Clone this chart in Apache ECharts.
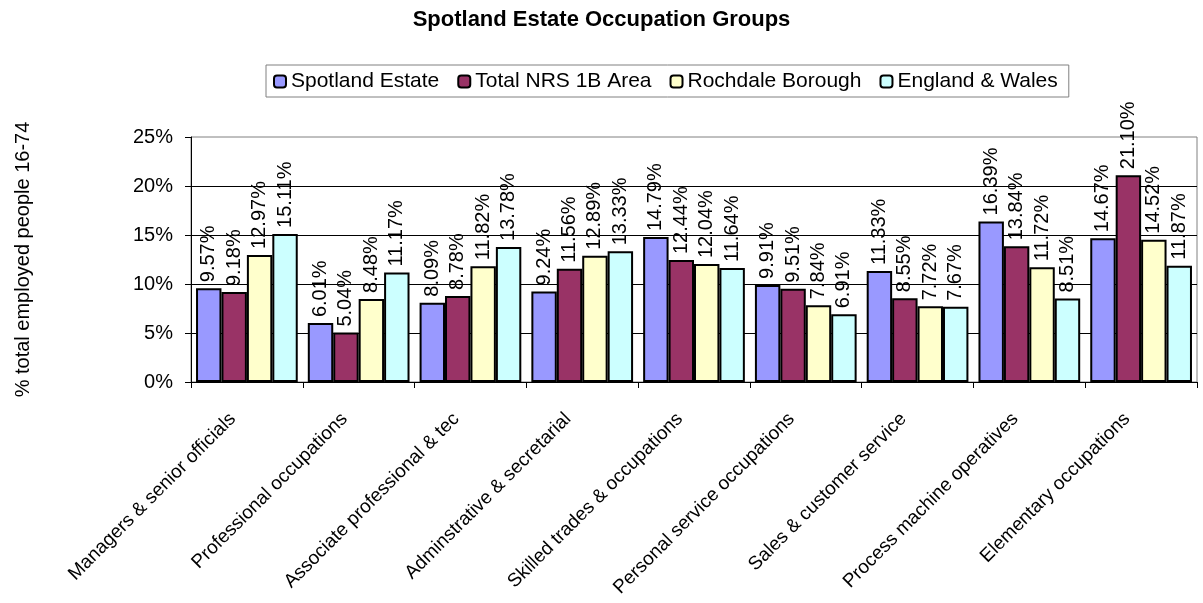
<!DOCTYPE html>
<html>
<head>
<meta charset="utf-8">
<script src="https://cdn.jsdelivr.net/npm/echarts@6/dist/echarts.min.js"></script>
<style>html,body{margin:0;padding:0;background:#fff}#c{width:1203px;height:603px}</style>
</head>
<body>
<div id="c"></div>
<script>
const categories = ["Managers & senior officials","Professional occupations","Associate professional & tec","Adminstrative & secretarial","Skilled trades & occupations","Personal service occupations","Sales & customer service","Process machine operatives","Elementary occupations"];
const spotland = [9.57, 6.01, 8.09, 9.24, 14.79, 9.91, 11.33, 16.39, 14.67];
const nrs = [9.18, 5.04, 8.78, 11.56, 12.44, 9.51, 8.55, 13.84, 21.10];
const rochdale = [12.97, 8.48, 11.82, 12.89, 12.04, 7.84, 7.72, 11.72, 14.52];
const englandWales = [15.11, 11.17, 13.78, 13.33, 11.64, 6.91, 7.67, 8.51, 11.87];
const seriesNames = ["Spotland Estate","Total NRS 1B Area","Rochdale Borough","England & Wales"];
const colors = ["#9999FF","#993366","#FFFFCC","#CCFFFF"];
const yTicks = [0,5,10,15,20,25];

const font = "Arial, 'Liberation Sans', sans-serif";
const chart = echarts.init(document.getElementById('c'));
const dataSets = [spotland, nrs, rochdale, englandWales];
chart.setOption({
  animation: false,
  backgroundColor: '#fff',
  title: {
    text: 'Spotland Estate Occupation Groups',
    left: 'center', top: 4,
    textStyle: {fontFamily: font, fontSize: 22, fontWeight: 'bold', color: '#000'}
  },
  legend: {
    data: seriesNames,
    left: 266, top: 65,
    itemWidth: 12, itemHeight: 12, itemGap: 18,
    padding: [6, 11, 5, 7],
    borderColor: '#808080', borderWidth: 1,
    textStyle: {fontFamily: font, fontSize: 21, color: '#000'},
    itemStyle: {borderColor: '#000', borderWidth: 2}
  },
  grid: {left: 191, top: 137, right: 6, bottom: 221, containLabel: false, outerBoundsMode: 'none',
         show: true, borderColor: '#808080', borderWidth: 1},
  xAxis: {
    type: 'category', data: categories,
    axisLine: {lineStyle: {color: '#000', width: 1}},
    axisTick: {show: true, lineStyle: {color: '#000'}, length: 6},
    axisLabel: {rotate: 45, fontFamily: font, fontSize: 19, color: '#000', margin: 20, padding: [0, 20, 0, 0], interval: 0}
  },
  yAxis: {
    type: 'value', min: 0, max: 25, interval: 5,
    name: '% total employed people 16-74', nameLocation: 'middle', nameGap: 158, nameRotate: 90,
    nameTextStyle: {fontFamily: font, fontSize: 20, color: '#000'},
    axisLine: {show: true, lineStyle: {color: '#000'}},
    axisTick: {show: true, lineStyle: {color: '#000'}, length: 6},
    axisLabel: {fontFamily: font, fontSize: 20, color: '#000', margin: 18, formatter: v => yTicks.includes(v) ? v + '%' : ''},
    splitLine: {show: true, showMaxLine: false, lineStyle: {color: ['#000','#000','#000','#000','#000','#808080'], width: 1}}
  },
  series: dataSets.map((d, i) => ({
    name: seriesNames[i], type: 'bar', data: d,
    barGap: '0%', barCategoryGap: '9%',
    itemStyle: {color: colors[i], borderColor: '#000', borderWidth: 2},
    label: {
      show: true, position: 'top', rotate: 90, align: 'left', verticalAlign: 'middle', distance: 6,
      fontFamily: font, fontSize: 20, color: '#000',
      formatter: p => p.value.toFixed(2) + '%'
    }
  }))
});
</script>
</body>
</html>
